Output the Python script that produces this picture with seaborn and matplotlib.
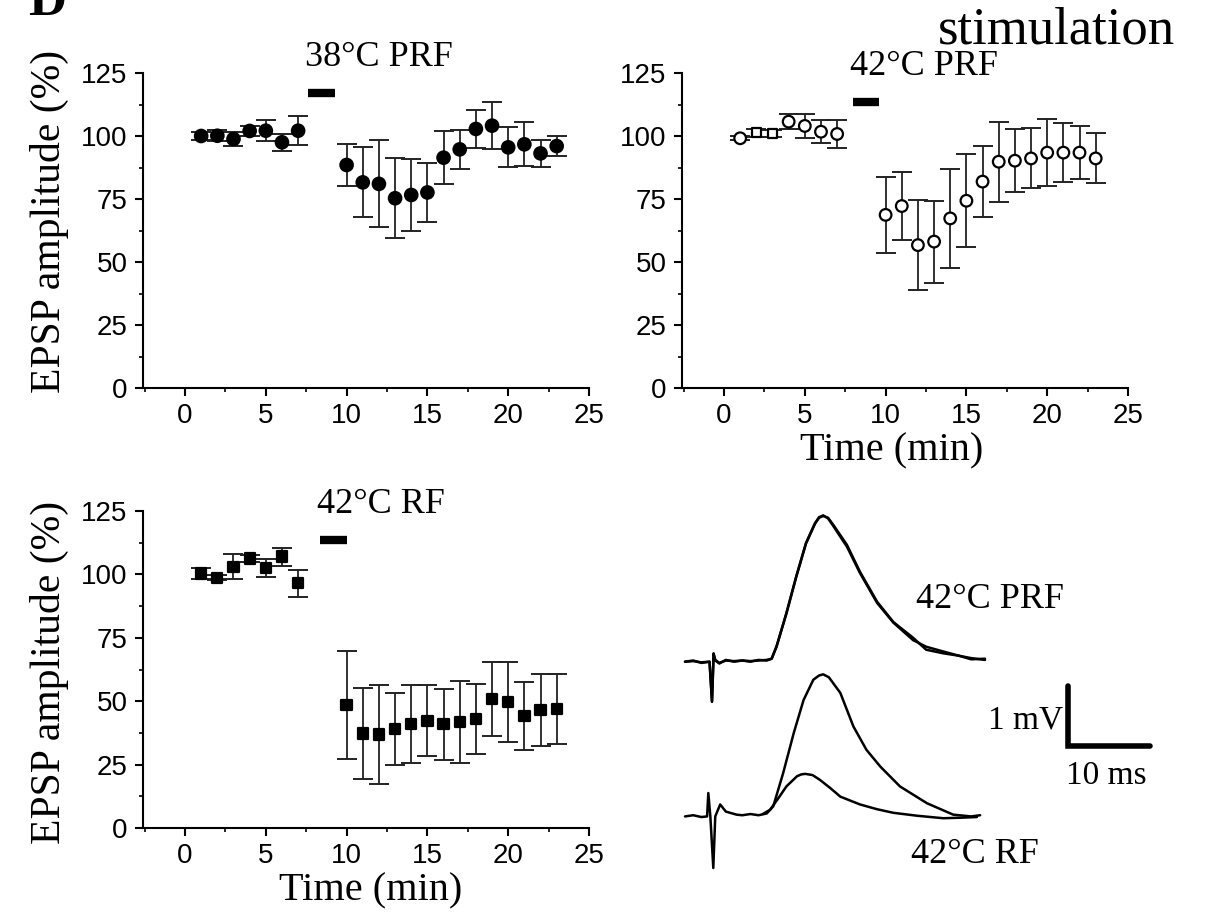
"""Amplitude des EPSP após PRF / RF, com traces de exemplo."""
import matplotlib
matplotlib.use("Agg")
import matplotlib.pyplot as plt
from matplotlib.ticker import MultipleLocator
import numpy as np
import pandas as pd
import seaborn as sns

# ---- dados ----
time_min = [1, 2, 3, 4, 5, 6, 7, 10, 11, 12, 13, 14, 15, 16, 17, 18, 19, 20, 21, 22, 23]

amp_38prf = [100, 100.1, 98.8, 102, 102.1, 97.5, 102.1, 88.5, 81.6, 81, 75.3, 76.6, 77.6,
             91.4, 94.7, 102.8, 104.1, 95.5, 96.7, 93.1, 96]
sem_38prf = [1.5, 2.2, 2.8, 2.1, 4.1, 3.3, 5.7, 8.3, 13.9, 17.3, 15.9, 14.2, 11.6,
             10.5, 7.6, 7.6, 9.4, 7.9, 8.8, 5.3, 4]

amp_42prf = [99.1, 101.3, 101, 105.7, 104, 101.7, 100.8, 68.7, 72.2, 56.7, 58.1, 67.3, 74.3,
             81.9, 89.8, 90.2, 91.1, 93.4, 93.4, 93.4, 91.1]
sem_42prf = [0.8, 1.5, 1.5, 3, 4.6, 4.6, 5.5, 15.2, 13.6, 17.9, 16.3, 19.8, 18.5,
             14.2, 15.9, 12.4, 11.9, 13.2, 11.6, 10.6, 9.9]
# no original os pontos 2 e 3 aparecem como quadradinhos
shape_42prf = ["o", "s", "s", "o", "o", "o", "o", "o", "o", "o", "o", "o", "o", "o",
               "o", "o", "o", "o", "o", "o", "o"]

amp_42rf = [100.4, 98.7, 103, 106.3, 102.4, 107, 96.5, 48.5, 37.3, 36.9, 39, 41, 42.3,
            40.9, 41.7, 42.9, 50.9, 49.6, 44.2, 46.5, 46.8]
sem_42rf = [2.2, 1, 5, 1.5, 3.6, 3.6, 5.4, 21.4, 18.1, 19.6, 14.2, 15.3, 13.9,
            14.1, 16.2, 13.7, 14.6, 15.8, 13.4, 14.2, 13.8]

# barra do estímulo (início, fim, altura)
stim_38prf = (7.6, 9.3, 117.2)
stim_42prf = (8.0, 9.6, 113.6)
stim_42rf = (8.35, 10.0, 113.6)

# traces (ms, mV)
prf_t = [0, 1, 2, 3.0, 3.3, 3.5, 3.7, 4.2, 5, 6, 7, 8, 9, 10, 10.6, 11.2, 12.4, 13.6, 14.8,
         15.9, 16.4, 16.9, 17.5, 18.2, 19.8, 21.4, 23.5, 25.5, 27.9, 29.5, 31.6, 33.5, 35, 36.7]
prf_a1 = [0, 0.02, -0.02, 0, -0.67, 0.14, 0.02, -0.03, 0.03, 0, 0.02, 0, 0.03, 0.02, 0.05,
          0.25, 0.81, 1.42, 1.98, 2.31, 2.41, 2.44, 2.39, 2.25, 1.92, 1.48, 0.98, 0.65, 0.36,
          0.25, 0.17, 0.1, 0.06, 0.03]
prf_a2 = [0, 0.01, -0.01, 0, -0.66, 0.12, 0.03, -0.02, 0.02, 0.01, 0.02, 0.01, 0.02, 0.03,
          0.05, 0.26, 0.8, 1.41, 1.97, 2.3, 2.4, 2.43, 2.4, 2.27, 1.95, 1.5, 1.0, 0.66, 0.4,
          0.2, 0.14, 0.1, 0.04, 0.05]
prf_offset = 2.58

rf_ctrl_t = [0, 1, 2, 2.7, 2.85, 3.1, 3.46, 3.7, 4.3, 5, 6.3, 7, 8, 9, 10, 10.8, 12.0, 13.3,
             14.5, 15.7, 16.4, 16.9, 17.6, 19.0, 20.6, 22.2, 23.9, 26.3, 29.6, 32.8, 35, 36.1]
rf_ctrl_a = [0, 0.02, -0.01, 0, 0.39, 0, -0.86, 0.0, 0.2, 0.08, 0.03, 0.02, 0.04, 0.02,
             0.05, 0.17, 0.72, 1.39, 1.94, 2.28, 2.35, 2.37, 2.32, 2.06, 1.5, 1.11, 0.83, 0.5,
             0.22, 0.03, 0.0, 0.02]
rf_after_t = [9.5, 10.4, 11.4, 12.4, 13.7, 14.2, 14.7, 15.6, 16.5, 17.8, 19.0, 21.4, 23.5,
              25.5, 28.5, 31.6, 34, 35.7]
rf_after_a = [0.04, 0.11, 0.3, 0.5, 0.67, 0.7, 0.71, 0.69, 0.61, 0.47, 0.33, 0.2, 0.12,
              0.06, 0.01, -0.03, -0.02, -0.01]

sns.set_theme(style="ticks")
plt.rcParams["font.family"] = ["Liberation Sans", "DejaVu Sans"]
plt.rcParams["axes.linewidth"] = 1.5
for k in ("text.color", "axes.labelcolor", "xtick.color", "ytick.color"):
    plt.rcParams[k] = "black"
SERIF = ["Liberation Serif", "DejaVu Serif"]

W, H = 1205, 915
fig = plt.figure(figsize=(W / 100, H / 100), dpi=100)


def px_axes(left, top, right, bottom):
    return fig.add_axes([left / W, 1 - bottom / H, (right - left) / W, (bottom - top) / H])


def style_axes(ax):
    sns.despine(ax=ax)
    ax.set_xlim(-2.6, 25)
    ax.set_ylim(0, 125)
    ax.set_xticks([0, 5, 10, 15, 20, 25])
    ax.set_yticks([0, 25, 50, 75, 100, 125])
    ax.xaxis.set_minor_locator(MultipleLocator(2.5))
    ax.yaxis.set_minor_locator(MultipleLocator(12.5))
    ax.tick_params(which="major", direction="out", length=6, width=1.5, labelsize=20, pad=5)
    ax.tick_params(which="minor", direction="out", length=3, width=1.2)
    for s in ax.spines.values():
        s.set_color("black")


def panel(ax, amp, sem, stim, label, marker, face, size, ylabel_y=None, xlabel_x=None):
    df = pd.DataFrame({"t": time_min, "amp": amp, "sem": sem, "shape": marker})
    ax.errorbar(df["t"], df["amp"], yerr=df["sem"], fmt="none", ecolor="#222222",
                elinewidth=1.3, capsize=7, capthick=1.4, zorder=2)
    shapes = sorted(set(marker))
    sns.scatterplot(data=df, x="t", y="amp", ax=ax, style="shape",
                    markers={m: m for m in shapes}, size="shape",
                    sizes={"o": size, "s": size * 0.6 if len(shapes) > 1 else size},
                    color=face, edgecolor="black", linewidth=1.6, zorder=3, legend=False)
    ax.plot([stim[0], stim[1]], [stim[2], stim[2]], color="black", lw=6,
            solid_capstyle="butt", clip_on=False)
    ax.text(stim[0] - 0.2, stim[2] + 14, label, family=SERIF, fontsize=26,
            va="center", ha="left", clip_on=False)
    style_axes(ax)
    ax.set_xlabel("")
    ax.set_ylabel("")
    if ylabel_y is not None:
        ax.set_ylabel("EPSP amplitude (%)", family=SERIF, fontsize=30)
        ax.yaxis.set_label_coords(-0.165, ylabel_y)
    if xlabel_x is not None:
        ax.set_xlabel("Time (min)", family=SERIF, fontsize=29)
        ax.xaxis.set_label_coords(xlabel_x, -0.14)


ax1 = px_axes(143, 73, 589, 388)
panel(ax1, amp_38prf, sem_38prf, stim_38prf, "38°C PRF", ["o"] * len(time_min), "black",
      80, ylabel_y=0.53)

ax2 = px_axes(682, 73, 1128, 388)
panel(ax2, amp_42prf, sem_42prf, stim_42prf, "42°C PRF", shape_42prf, "white",
      70, xlabel_x=0.47)

ax3 = px_axes(143, 511, 589, 828)
panel(ax3, amp_42rf, sem_42rf, stim_42rf, "42°C RF", ["s"] * len(time_min), "black",
      55, ylabel_y=0.49, xlabel_x=0.51)

# traces de exemplo
ax4 = px_axes(660, 480, 1200, 880)
ax4.set_xlim(-3.06, 63.0)
ax4.set_ylim(-1.06, 5.61)
ax4.axis("off")
tr = pd.concat([
    pd.DataFrame({"t": prf_t, "v": np.array(prf_a1) + prf_offset, "id": "prf1"}),
    pd.DataFrame({"t": prf_t, "v": np.array(prf_a2) + prf_offset, "id": "prf2"}),
    pd.DataFrame({"t": rf_ctrl_t, "v": rf_ctrl_a, "id": "ctrl"}),
    pd.DataFrame({"t": rf_after_t, "v": rf_after_a, "id": "after"}),
])
sns.lineplot(data=tr, x="t", y="v", units="id", estimator=None, sort=False,
             color="black", lw=1.8, ax=ax4)
ax4.plot([46.9, 46.9, 56.9], [2.17, 1.17, 1.17], color="black", lw=4,
         solid_joinstyle="miter")
ax4.text(46.3, 1.61, "1 mV", family=SERIF, fontsize=24, ha="right", va="center")
ax4.text(51.6, 0.68, "10 ms", family=SERIF, fontsize=24, ha="center", va="center")
ax4.text(28.3, 3.61, "42°C PRF", family=SERIF, fontsize=26, ha="left", va="center")
ax4.text(27.7, -0.64, "42°C RF", family=SERIF, fontsize=26, ha="left", va="center")

fig.text(1175 / W, 1 - 30 / H, "stimulation", family=SERIF, fontsize=38,
         ha="right", va="center")
fig.text(28 / W, 1 - 2 / H, "D", family=SERIF, fontsize=38, ha="left", va="center",
         weight="bold")

fig.savefig("out.png", dpi=100)
